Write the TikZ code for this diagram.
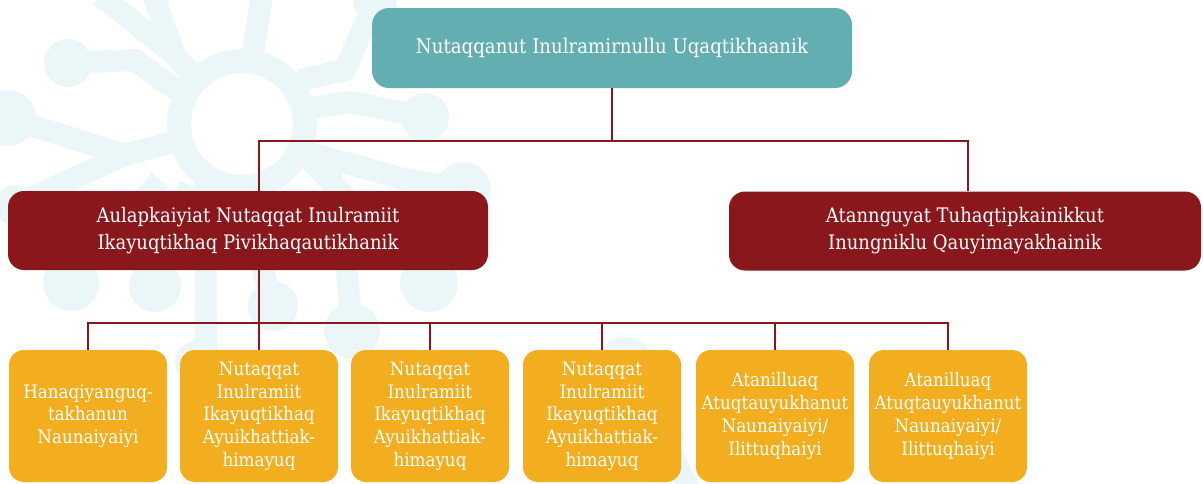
\documentclass[tikz,border=0pt]{standalone}
\usepackage{fontspec}
\setmainfont{DejaVu Serif}[FakeStretch=0.9]
\definecolor{tealbox}{RGB}{98,174,176}
\definecolor{wine}{RGB}{138,23,27}
\definecolor{amber}{RGB}{242,174,30}
\definecolor{frost}{RGB}{234,246,247}
\begin{document}
\begin{tikzpicture}
[
    x=1pt, y=-1pt,
    every node/.style={text=white, align=center, inner sep=0pt},
    topbox/.style={fill=tealbox, rounded corners=17pt, minimum width=480pt, minimum height=80pt, font=\fontsize{20.2}{24}\selectfont},
    redbox/.style={fill=wine, rounded corners=16pt, minimum height=79pt, font=\fontsize{20}{27}\selectfont},
    leafbox/.style={fill=amber, rounded corners=15pt, minimum width=158pt, minimum height=132pt, font=\fontsize{18.6}{22.7}\selectfont},
    link/.style={draw=wine, line width=2.2pt},
    ring/.style={draw=frost, line width=24pt},
    bond/.style={draw=frost, line width=22pt},
    atom/.style={fill=frost},
]
\useasboundingbox (0,0) rectangle (1203,483);
\draw[ring] (242,124) circle[radius=63];
\draw[bond] (100,-5) -- (175,55) -- (200,85);
\draw[bond] (153,-5) -- (175,55);
\draw[bond] (262,-5) -- (252,60);
\draw[bond] (300,80) -- (345,70) -- (375,0);
\draw[bond] (300,110) -- (350,102) -- (425,117);
\draw[bond] (68,63) -- (135,60) -- (190,100);
\draw[bond] (8,118) -- (125,155) -- (180,140);
\draw[bond] (125,155) -- (15,205);
\draw[bond] (300,150) -- (400,178) -- (463,190);
\draw[bond] (205,180) -- (206,360);
\draw[bond] (240,185) -- (273,306);
\draw[bond] (330,170) -- (346,260) -- (352,331);
\draw[bond] (160,180) -- (71,283);
\draw[bond] (190,185) -- (155,286);
\draw[bond] (300,150) -- (429,283);
\draw[bond] (625,365) -- (690,490);
\fill[atom] (375,0) circle[radius=22];
\fill[atom] (425,117) circle[radius=24];
\fill[atom] (68,63) circle[radius=24];
\fill[atom] (8,118) circle[radius=28];
\fill[atom] (15,205) circle[radius=20];
\fill[atom] (463,190) circle[radius=28];
\fill[atom] (71,283) circle[radius=28];
\fill[atom] (155,286) circle[radius=26];
\fill[atom] (273,306) circle[radius=25];
\fill[atom] (352,331) circle[radius=28];
\fill[atom] (429,283) circle[radius=29];
\fill[atom] (195,362) circle[radius=20];
\fill[atom] (625,365) circle[radius=28];

\node[topbox] (top) at (612,48) {Nutaqqanut Inulramirnullu Uqaqtikhaanik};
\node[redbox, minimum width=480pt] (aulap) at (248,230.5) {Aulapkaiyiat Nutaqqat Inulramiit\\Ikayuqtikhaq Pivikhaqautikhanik};
\node[redbox, minimum width=472pt] (atann) at (965,231) {Atannguyat Tuhaqtipkainikkut\\Inungniklu Qauyimayakhainik};

\node[leafbox] (hanaq) at (88,416) {Hanaqiyanguq-\\takhanun\\Naunaiyaiyi};
\node[leafbox] (nutaA) at (259,416) {Nutaqqat\\Inulramiit\\Ikayuqtikhaq\\Ayuikhattiak-\\himayuq};
\node[leafbox] (nutaB) at (430,416) {Nutaqqat\\Inulramiit\\Ikayuqtikhaq\\Ayuikhattiak-\\himayuq};
\node[leafbox] (nutaC) at (602,416) {Nutaqqat\\Inulramiit\\Ikayuqtikhaq\\Ayuikhattiak-\\himayuq};
\node[leafbox] (atanA) at (775,416) {Atanilluaq\\Atuqtauyukhanut\\Naunaiyaiyi/\\Ilittuqhaiyi};
\node[leafbox] (atanB) at (948,416) {Atanilluaq\\Atuqtauyukhanut\\Naunaiyaiyi/\\Ilittuqhaiyi};

\coordinate (hubtop) at (612,141);
\coordinate (hubleaf) at (259,323);
\draw[link] (top) -- (hubtop);
\draw[link] ([xshift=11pt]aulap.north) |- (hubtop) -| ([xshift=3pt]atann.north);
\draw[link] ([xshift=11pt]aulap.south) -- (hubleaf);
\foreach \leaf in {hanaq,nutaA,nutaB,nutaC,atanA,atanB}
    \draw[link] (\leaf.north) |- (hubleaf);
\end{tikzpicture}
\end{document}
